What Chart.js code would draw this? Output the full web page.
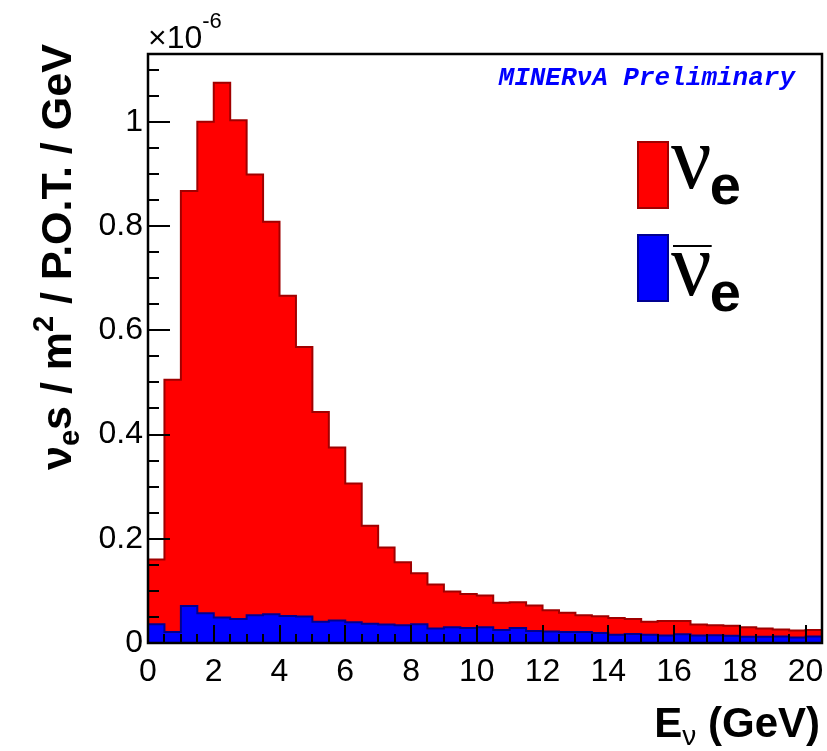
<!DOCTYPE html>
<html lang="en">
<head>
<meta charset="UTF-8">
<title>Electron neutrino flux</title>
<script src="https://cdn.jsdelivr.net/npm/chart.js"></script>
<style>
  html, body { margin: 0; padding: 0; background: #fff; }
  #wrap { width: 827px; height: 751px; }
</style>
</head>
<body>
<div id="wrap"><canvas id="flux" width="827" height="751"></canvas></div>
<script>
// 0.5 GeV bins starting at 0, flux in units of 1e-6 nu / m^2 / POT / GeV
const binWidth = 0.5;
const nueFlux = [
  0.160, 0.505, 0.867, 1.000, 1.075, 1.003, 0.899, 0.808, 0.666, 0.568,
  0.443, 0.375, 0.306, 0.225, 0.183, 0.155, 0.134, 0.112, 0.099, 0.094,
  0.091, 0.077, 0.078, 0.072, 0.063, 0.058, 0.053, 0.0515, 0.048, 0.046,
  0.041, 0.042, 0.042, 0.0355, 0.034, 0.033, 0.030, 0.028, 0.026, 0.024,
  0.025
];
const nuebarFlux = [
  0.036, 0.021, 0.071, 0.057, 0.049, 0.046, 0.053, 0.055, 0.052, 0.051,
  0.041, 0.043, 0.040, 0.037, 0.0355, 0.034, 0.036, 0.028, 0.030, 0.029,
  0.030, 0.025, 0.029, 0.023, 0.022, 0.021, 0.021, 0.019, 0.016, 0.0175,
  0.016, 0.0145, 0.017, 0.0145, 0.015, 0.014, 0.012, 0.012, 0.0125, 0.0105,
  0.0125
];
const xTicks = [0, 2, 4, 6, 8, 10, 12, 14, 16, 18, 20];
const yTicks = [0, 0.2, 0.4, 0.6, 0.8, 1];
const xMinorStep = 0.5;
const yMinorStep = 0.05;
const xMax = 20.5;
const yMax = 1.13;

const RED = '#ff0000', RED_LINE = '#a00000';
const BLUE = '#0000ff', BLUE_LINE = '#000090';
const SANS = '"Liberation Sans", Arial, Helvetica, sans-serif';

// histogram outline as a step line closed down to zero at both ends
function histPoints(values) {
  const pts = [{ x: 0, y: 0 }];
  values.forEach((v, i) => pts.push({ x: i * binWidth, y: v }));
  const end = values.length * binWidth;
  pts.push({ x: end, y: values[values.length - 1] });
  pts.push({ x: end, y: 0 });
  return pts;
}

// draws a run of text pieces (sub/superscripts) starting at x, baseline y
function richText(ctx, pieces, x, y) {
  ctx.textAlign = 'left';
  ctx.textBaseline = 'alphabetic';
  for (const p of pieces) {
    ctx.font = p.font;
    ctx.fillText(p.t, x, y + (p.dy || 0));
    x += ctx.measureText(p.t).width;
  }
}
function richWidth(ctx, pieces) {
  let w = 0;
  for (const p of pieces) { ctx.font = p.font; w += ctx.measureText(p.t).width; }
  return w;
}

const rootStyle = {
  id: 'rootStyle',
  afterDatasetsDraw(chart) {
    const { ctx, chartArea: a, scales: { x, y } } = chart;
    ctx.save();
    ctx.strokeStyle = '#000';
    ctx.lineWidth = 2;
    ctx.beginPath();
    // y ticks, pointing inward
    for (let v = 0; v <= yMax + 1e-9; v += yMinorStep) {
      const major = yTicks.some(t => Math.abs(t - v) < 1e-6);
      const py = Math.round(y.getPixelForValue(v));
      ctx.moveTo(a.left, py);
      ctx.lineTo(a.left + (major ? 22 : 11), py);
    }
    // x ticks
    for (let v = 0; v <= xMax + 1e-9; v += xMinorStep) {
      const major = xTicks.some(t => Math.abs(t - v) < 1e-6);
      const px = Math.round(x.getPixelForValue(v));
      ctx.moveTo(px, a.bottom);
      ctx.lineTo(px, a.bottom - (major ? 18 : 9));
    }
    ctx.stroke();
    ctx.lineWidth = 2.5;
    ctx.strokeRect(a.left, a.top, a.right - a.left, a.bottom - a.top);
    ctx.restore();
  },
  afterDraw(chart) {
    const { ctx, chartArea: a } = chart;
    ctx.save();
    ctx.fillStyle = '#000';

    // exponent above the y axis
    richText(ctx, [
      { t: '\u00d710', font: '32px ' + SANS },
      { t: '-6', font: '22px ' + SANS, dy: -20 }
    ], a.left, 48);

    // x axis title
    const xt = [
      { t: 'E', font: 'bold 42px ' + SANS },
      { t: '\u03bd', font: '28px ' + SANS, dy: 8 },
      { t: ' (GeV)', font: 'bold 42px ' + SANS }
    ];
    richText(ctx, xt, 820 - richWidth(ctx, xt), 737);

    // y axis title, rotated
    const yt = [
      { t: '\u03bd', font: 'bold 43px ' + SANS },
      { t: 'e', font: 'bold 29px ' + SANS, dy: 8 },
      { t: 's / m', font: 'bold 43px ' + SANS },
      { t: '2', font: 'bold 29px ' + SANS, dy: -18 },
      { t: ' / P.O.T. / GeV', font: 'bold 43px ' + SANS }
    ];
    ctx.save();
    ctx.translate(71, 470);
    ctx.rotate(-Math.PI / 2);
    richText(ctx, yt, 0, 0);
    ctx.restore();

    // preliminary tag
    ctx.fillStyle = '#0000ff';
    ctx.font = 'italic bold 26px "Liberation Mono", "Courier New", monospace';
    ctx.textAlign = 'right';
    ctx.fillText('MINER\u03bdA Preliminary', 795, 85);

    // legend
    const entries = [
      { fill: RED, line: RED_LINE, top: 142, base: 188, bar: false },
      { fill: BLUE, line: BLUE_LINE, top: 235, base: 295, bar: true }
    ];
    for (const e of entries) {
      ctx.fillStyle = e.fill;
      ctx.strokeStyle = e.line;
      ctx.lineWidth = 2;
      ctx.fillRect(638, e.top, 30, 66);
      ctx.strokeRect(638, e.top, 30, 66);
      ctx.fillStyle = '#000';
      ctx.textAlign = 'left';
      ctx.font = '90px "Liberation Serif", "Times New Roman", serif';
      ctx.fillText('\u03bd', 671, e.base);
      const nw = ctx.measureText('\u03bd').width;
      ctx.font = 'bold 56px ' + SANS;
      ctx.fillText('e', 671 + nw - 2, e.base + 16);
      if (e.bar) {
        ctx.strokeStyle = '#000';
        ctx.beginPath();
        ctx.moveTo(673, e.base - 49);
        ctx.lineTo(673 + nw - 2, e.base - 49);
        ctx.stroke();
      }
    }
    ctx.restore();
  }
};

new Chart(document.getElementById('flux'), {
  type: 'line',
  data: {
    datasets: [
      {
        label: '\u03bd_e',
        data: histPoints(nueFlux),
        stepped: 'before',
        backgroundColor: RED,
        borderColor: RED_LINE,
        borderWidth: 2,
        fill: 'origin',
        pointRadius: 0,
        order: 1
      },
      {
        label: 'anti \u03bd_e',
        data: histPoints(nuebarFlux),
        stepped: 'before',
        backgroundColor: BLUE,
        borderColor: BLUE_LINE,
        borderWidth: 2,
        fill: 'origin',
        pointRadius: 0,
        order: 0
      }
    ]
  },
  options: {
    responsive: false,
    animation: false,
    devicePixelRatio: 1,
    layout: { padding: { top: 54, right: 5, left: 0, bottom: 0 } },
    plugins: { legend: { display: false }, tooltip: { enabled: false } },
    scales: {
      x: {
        type: 'linear',
        min: 0,
        max: xMax,
        grid: { display: false, drawTicks: false },
        border: { display: false },
        afterBuildTicks: s => { s.ticks = xTicks.map(v => ({ value: v })); },
        afterFit: s => { s.height = 108; s.paddingLeft = 0; s.paddingRight = 0; },
        ticks: {
          autoSkip: false,
          maxRotation: 0,
          padding: 10,
          color: '#000',
          font: { family: SANS, size: 32 }
        }
      },
      y: {
        min: 0,
        max: yMax,
        grid: { display: false, drawTicks: false },
        border: { display: false },
        afterBuildTicks: s => { s.ticks = yTicks.map(v => ({ value: v })); },
        afterFit: s => { s.width = 148; s.paddingTop = 0; s.paddingBottom = 0; },
        ticks: {
          autoSkip: false,
          padding: 5,
          color: '#000',
          font: { family: SANS, size: 32 },
          callback: v => String(v)
        }
      }
    }
  },
  plugins: [rootStyle]
});
</script>
</body>
</html>
